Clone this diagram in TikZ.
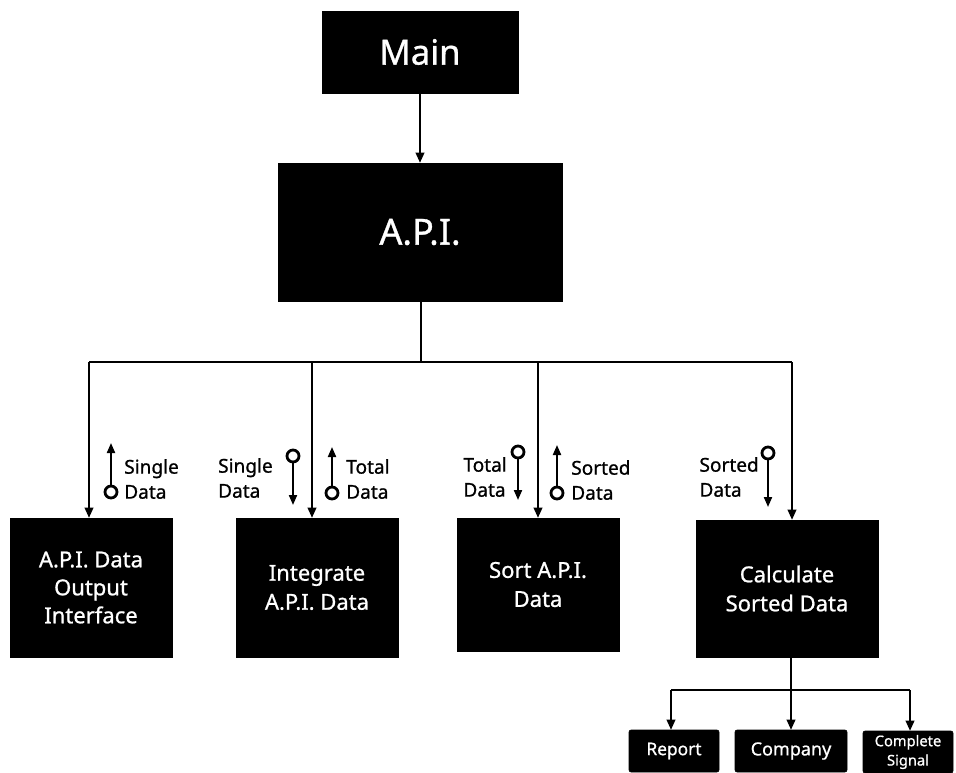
\documentclass[tikz,border=0pt]{standalone}
\usepackage{fontspec}
\setmainfont{Noto Sans}[FakeBold=0.9]
\usetikzlibrary{arrows.meta}
\tikzset{
  blk/.style={fill=black, draw=black, text=white, align=center, inner sep=0pt},
  smallblk/.style={blk, rounded corners=1.5pt},
  conn/.style={line width=1.1pt, -{Triangle[length=7.5pt,width=6.5pt]}},
  line/.style={line width=1.1pt},
  cpl/.style={circle, draw=black, line width=2.1pt, minimum size=9pt, inner sep=0pt, fill=white},
  cplarrow/.style={line width=1.5pt, -{Triangle[length=7.5pt,width=6pt]}},
  cpltext/.style={font=\fontsize{14.3}{18.75}\selectfont, align=left, inner sep=0pt},
}
\begin{document}
\begin{tikzpicture}[x=0.75pt, y=-0.75pt]
\useasboundingbox (0,0) rectangle (956,772);
% main boxes
\node[blk, minimum width=147pt, minimum height=61.5pt, font=\fontsize{26}{30}\selectfont] (main) at (420,52) {Main};
\node[blk, minimum width=213pt, minimum height=103.5pt, font=\fontsize{27}{32}\selectfont] (api) at (420,232) {A.P.I.};
\node[blk, minimum width=121.5pt, minimum height=104.25pt, font=\fontsize{16.5}{21}\selectfont] (b1) at (91,587.5) {A.P.I. Data\\Output\\Interface};
\node[blk, minimum width=121.5pt, minimum height=104.25pt, font=\fontsize{16.5}{21.75}\selectfont] (b2) at (317,587.5) {Integrate\\A.P.I. Data};
\node[blk, minimum width=121.5pt, minimum height=99.75pt, font=\fontsize{16.5}{21.75}\selectfont] (b3) at (538,584.5) {Sort A.P.I.\\Data};
\node[blk, minimum width=136.5pt, minimum height=102.75pt, font=\fontsize{16.5}{21.75}\selectfont] (b4) at (787,588.5) {Calculate\\Sorted Data};
% bottom boxes
\node[smallblk, minimum width=67.5pt, minimum height=31.5pt, font=\fontsize{13}{15}\selectfont] (rep) at (674,751) {Report};
\node[smallblk, minimum width=84pt, minimum height=31.5pt, font=\fontsize{13.5}{15}\selectfont] (comp) at (791,751) {Company};
\node[smallblk, minimum width=67.5pt, minimum height=31.5pt, font=\fontsize{11}{14.5}\selectfont] (cs) at (908,752) {Complete\\Signal};
% connectors
\draw[conn] (main) -- (api);
\coordinate (j) at (421,362);
\coordinate (hl) at (89,362);
\coordinate (h2) at (312,362);
\coordinate (h3) at (538,362);
\coordinate (hr) at (792,362);
\draw[line] (api.south -| j) -- (j);
\draw[line] (hl) -- (hr);
\draw[conn] (hl) -- (b1.north -| hl);
\draw[conn] (h2) -- (b2.north -| h2);
\draw[conn] (h3) -- (b3.north -| h3);
\draw[conn] (hr) -- (b4.north -| hr);
\coordinate (k) at (791,690);
\coordinate (kl) at (671,690);
\coordinate (kr) at (910,690);
\draw[line] (b4.south -| k) -- (k);
\draw[line] (kl) -- (kr);
\draw[conn] (kl) -- (rep.north -| kl);
\draw[conn] (k) -- (comp.north -| k);
\draw[conn] (kr) -- (cs.north -| kr);
% data couples
\node[cpl] (c1) at (111,492) {};
\coordinate (c1e) at (111,443);
\draw[cplarrow] (c1) -- (c1e);
\node[cpltext, anchor=west] (t1) at (124,479) {Single\\Data};

\node[cpl] (c2) at (293,456) {};
\coordinate (c2e) at (293,505);
\draw[cplarrow] (c2) -- (c2e);
\node[cpltext, anchor=east] (t2) at (273,478) {Single\\Data};

\node[cpl] (c3) at (332,493) {};
\coordinate (c3e) at (332,447);
\draw[cplarrow] (c3) -- (c3e);
\node[cpltext, anchor=west] (t3) at (346,479) {Total\\Data};

\node[cpl] (c4) at (518,452) {};
\coordinate (c4e) at (518,500);
\draw[cplarrow] (c4) -- (c4e);
\node[cpltext, anchor=east] (t4) at (507,477) {Total\\Data};

\node[cpl] (c5) at (557,493) {};
\coordinate (c5e) at (557,445);
\draw[cplarrow] (c5) -- (c5e);
\node[cpltext, anchor=west] (t5) at (571,480) {Sorted\\Data};

\node[cpl] (c6) at (768,453) {};
\coordinate (c6e) at (768,507);
\draw[cplarrow] (c6) -- (c6e);
\node[cpltext, anchor=east] (t6) at (759,477) {Sorted\\Data};
\end{tikzpicture}
\end{document}
